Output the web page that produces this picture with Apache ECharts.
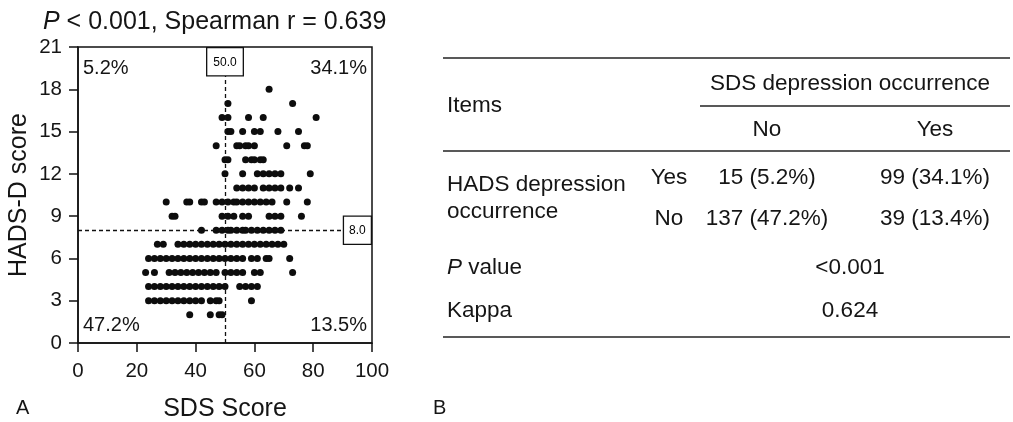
<!DOCTYPE html>
<html><head><meta charset="utf-8">
<script src="https://cdn.jsdelivr.net/npm/echarts@6/dist/echarts.min.js"></script>
<style>html,body{margin:0;padding:0;background:#fff}#c{width:1013px;height:422px}</style>
</head><body><div id="c"></div>
<script>
// ---- scatter data: HADS-D score levels and the SDS scores read at each level ----
const hadsLevels = [18, 17, 16, 15, 14, 13, 12, 11, 10, 9, 8, 7, 6, 5, 4, 3, 2];
const sds18 = [65];
const sds17 = [51, 73];
const sds16 = [49, 51, 58, 63, 81];
const sds15 = [51, 52, 56, 60, 62, 68, 75];
const sds14 = [47, 54, 55, 57, 58, 60, 71, 77, 78];
const sds13 = [50, 51, 57, 59, 60, 62, 63];
const sds12 = [50, 56, 61, 63, 65, 67, 69, 79];
const sds11 = [54, 56, 58, 60, 63, 65, 67, 69, 72, 75];
const sds10 = [30, 37, 38, 42, 43, 47, 49, 51, 53, 54, 56, 58, 60, 62, 64, 66, 71, 78];
const sds9  = [32, 33, 49, 51, 53, 56, 58, 65, 67, 69, 76];
const sds8  = [42, 47, 49, 51, 52, 54, 56, 57, 59, 61, 63, 65, 67, 69];
const sds7  = [27, 29, 34, 36, 38, 40, 42, 44, 46, 48, 50, 52, 54, 56, 58, 60, 62, 64, 66, 68, 70];
const sds6  = [24, 26, 28, 30, 32, 34, 36, 38, 40, 42, 44, 46, 48, 50, 52, 54, 56, 59, 61, 64, 65, 72];
const sds5  = [23, 26, 31, 33, 35, 37, 39, 41, 43, 45, 47, 50, 52, 54, 56, 60, 62, 73];
const sds4  = [24, 26, 28, 30, 32, 34, 36, 38, 40, 42, 44, 46, 48, 50, 55, 57, 59, 61];
const sds3  = [24, 26, 28, 30, 32, 34, 36, 38, 40, 42, 45, 47, 48, 59];
const sds2  = [38, 45, 48, 49];
const sdsByLevel = [sds18, sds17, sds16, sds15, sds14, sds13, sds12, sds11, sds10, sds9, sds8, sds7, sds6, sds5, sds4, sds3, sds2];

const sdsCut = 50.0;
const hadsCut = 8.0;
const quadrantLabels = ['5.2%', '34.1%', '47.2%', '13.5%']; // TL, TR, BL, BR

// ---- table content ----
const tableGroupHeader = 'SDS depression occurrence';
const tableColHeaders = ['No', 'Yes'];
const tableRowGroup = ['HADS depression', 'occurrence'];
const tableRowLabels = ['Yes', 'No'];
const tableCells = [['15 (5.2%)', '99 (34.1%)'], ['137 (47.2%)', '39 (13.4%)']];
const pValueText = '<0.001';
const kappaText = '0.624';

const points = [];
hadsLevels.forEach((h, i) => sdsByLevel[i].forEach(s => points.push([s, h])));

const FF = 'Liberation Sans, Arial, Helvetica, sans-serif';
const INK = '#151515';
const TFS = 22.5;

function txt(text, x, y, align, size, extra) {
  const fs = size || TFS;
  return Object.assign({
    type: 'text', x: x, y: y, silent: true,
    style: { text: text, fontSize: fs, fontFamily: FF, fill: INK,
      align: align || 'left', textAlign: align || 'left',
      verticalAlign: 'middle', textVerticalAlign: 'middle',
      rich: { i: { fontStyle: 'italic', fontSize: fs, fontFamily: FF, fill: INK, color: INK } } }
  }, extra || {});
}
function hline(x1, x2, y) {
  return { type: 'line', silent: true, shape: { x1: x1, y1: y, x2: x2, y2: y }, style: { stroke: '#222', lineWidth: 1.3 } };
}

const TL = 443, TR = 1010;
const colNo = 767, colYes = 935, colMid = 850, colLbl = 669, colItems = 447;
const graphics = [
  hline(TL, TR, 58), hline(700, TR, 106), hline(TL, TR, 151), hline(TL, TR, 337),
  txt(tableGroupHeader, colMid, 84, 'center'),
  txt('Items', colItems, 106, 'left'),
  txt(tableColHeaders[0], colNo, 130, 'center'),
  txt(tableColHeaders[1], colYes, 130, 'center'),
  txt(tableRowGroup[0], colItems, 185, 'left'),
  txt(tableRowGroup[1], colItems, 212, 'left'),
  txt(tableRowLabels[0], colLbl, 178, 'center'),
  txt(tableRowLabels[1], colLbl, 219, 'center'),
  txt(tableCells[0][0], colNo, 178, 'center'),
  txt(tableCells[0][1], colYes, 178, 'center'),
  txt(tableCells[1][0], colNo, 219, 'center'),
  txt(tableCells[1][1], colYes, 219, 'center'),
  txt('{i|P} value', colItems, 268, 'left'),
  txt(pValueText, colMid, 268, 'center'),
  txt('Kappa', colItems, 311, 'left'),
  txt(kappaText, colMid, 311, 'center'),
  // quadrant percentages
  txt(quadrantLabels[0], 83, 68, 'left', 20),
  txt(quadrantLabels[1], 367, 68, 'right', 20),
  txt(quadrantLabels[2], 83, 325, 'left', 20),
  txt(quadrantLabels[3], 367, 325, 'right', 20),
  // panel letters
  txt('A', 16, 408, 'left', 20),
  txt('B', 433, 408, 'left', 20)
];

const chart = echarts.init(document.getElementById('c'), null, { renderer: 'canvas' });
chart.setOption({
  animation: false,
  backgroundColor: '#fff',
  title: {
    text: '{i|P} < 0.001, Spearman r = 0.639',
    left: 38, top: 5,
    textStyle: { fontSize: 25, fontWeight: 'normal', color: INK, fontFamily: FF,
      rich: { i: { fontStyle: 'italic', fontSize: 25, color: INK, fontFamily: FF } } }
  },
  grid: { left: 78, right: 641, top: 47, bottom: 79, containLabel: false, outerBoundsMode: 'none',
    show: true, borderColor: '#111', borderWidth: 1.5, backgroundColor: 'transparent' },
  xAxis: {
    type: 'value', min: 0, max: 100, interval: 20,
    name: 'SDS Score', nameLocation: 'middle', nameGap: 54,
    nameTextStyle: { fontSize: 25, color: INK, fontFamily: FF },
    axisLine: { show: true, onZero: false, lineStyle: { color: '#111', width: 1.5 } },
    axisTick: { show: true, inside: false, length: 9, lineStyle: { color: '#111', width: 1.5 } },
    axisLabel: { fontSize: 20.5, color: INK, fontFamily: FF, margin: 18 },
    splitLine: { show: false }
  },
  yAxis: {
    type: 'value', min: 0, max: 21, interval: 3,
    name: 'HADS-D score', nameLocation: 'middle', nameGap: 46, nameRotate: 90,
    nameTextStyle: { fontSize: 25, color: INK, fontFamily: FF },
    axisLine: { show: true, onZero: false, lineStyle: { color: '#111', width: 1.5 } },
    axisTick: { show: true, inside: false, length: 9, lineStyle: { color: '#111', width: 1.5 } },
    axisLabel: { fontSize: 20.5, color: INK, fontFamily: FF, margin: 16 },
    splitLine: { show: false }
  },
  series: [{
    type: 'scatter',
    data: points,
    symbol: 'circle', symbolSize: 7,
    itemStyle: { color: '#0d0d0d', opacity: 1 },
    markLine: {
      silent: true, symbol: ['none', 'none'], animation: false,
      lineStyle: { color: '#111', type: [4, 3], width: 1.3 },
      emphasis: { disabled: true },
      data: [
        [{ coord: [sdsCut, 0], label: { show: true, position: 'end', distance: 0, formatter: sdsCut.toFixed(1),
            backgroundColor: '#fff', borderColor: '#111', borderWidth: 1.3, padding: [8, 6, 7, 6],
            fontSize: 12, color: '#000', fontFamily: FF } },
         { coord: [sdsCut, 19.0] }],
        [{ coord: [0, hadsCut], label: { show: true, position: 'end', distance: 0, formatter: hadsCut.toFixed(1),
            backgroundColor: '#fff', borderColor: '#111', borderWidth: 1.3, padding: [8, 5, 7, 5],
            fontSize: 12, color: '#000', fontFamily: FF } },
         { coord: [90.5, hadsCut] }]
      ]
    }
  }],
  graphic: graphics
});
</script></body></html>
